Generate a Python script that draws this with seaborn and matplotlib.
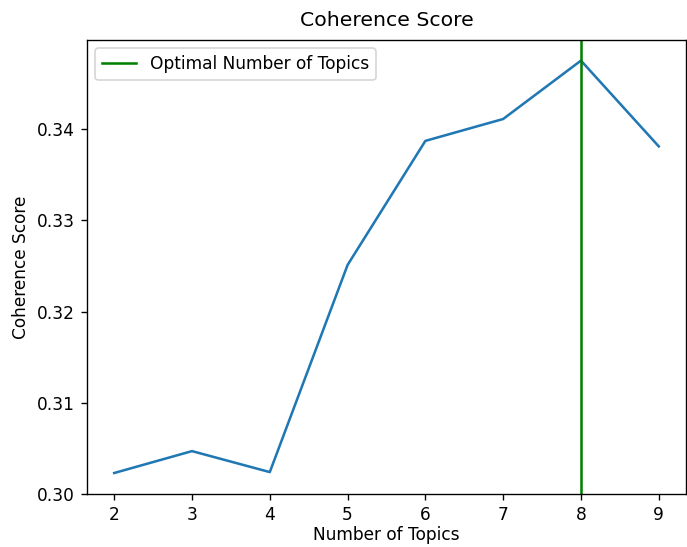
import matplotlib
matplotlib.use("Agg")
import matplotlib.pyplot as plt
import seaborn as sns
import pandas as pd

# coherence score per number of topics
num_topics = [2, 3, 4, 5, 6, 7, 8, 9]
coherence = [0.3023, 0.3047, 0.3024, 0.3251, 0.3387, 0.3411, 0.3475, 0.3381]
optimal_topics = 8

df = pd.DataFrame({"topics": num_topics, "score": coherence})

# render at a higher dpi so fonts and lines come out a bit bigger, like the reference
DPI = 122
fig = plt.figure(figsize=(687 / DPI, 547 / DPI), dpi=DPI)
ax = fig.add_axes([0.1266, 0.0969, 0.8719, 0.83])

sns.lineplot(data=df, x="topics", y="score", ax=ax, color="C0", linewidth=1.5)
ax.axvline(optimal_topics, color="green", linewidth=1.5, label="Optimal Number of Topics")

ax.set_title("Coherence Score", pad=8)
ax.set_xlabel("Number of Topics", labelpad=1.5)
ax.set_ylabel("Coherence Score")
ax.set_yticks([0.30, 0.31, 0.32, 0.33, 0.34])
ax.legend(loc="upper left")

fig.savefig("out.png", dpi=DPI)
